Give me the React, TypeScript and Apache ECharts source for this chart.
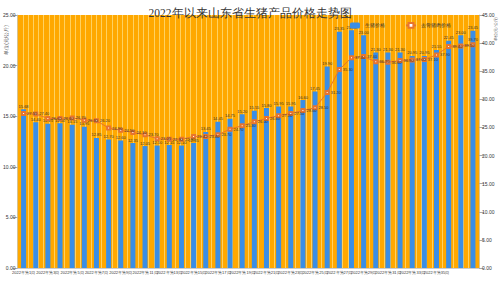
import React, { useEffect, useRef } from "react";
import * as echarts from "echarts";

const titleText = "2022年以来山东省生猪产品价格走势图";
const barName = "生猪价格";
const lineName = "去骨猪肉价格";
const axisNameLeft = "单位(元/公斤)";
const axisNameRight = "单位(元/公斤)";

const weeks: string[] = Array.from({ length: 38 }, (_, i) => `2022年第${i + 1}周`);

const barValues: number[] = [
  15.68, 14.4, 14.25, 14.3, 14.15, 13.95, 12.85, 12.7, 12.6, 12.35,
  12.05, 12.1, 12.15, 12.1, 12.35, 13.45, 14.45, 14.75, 15.2, 15.55,
  15.8, 15.95, 15.95, 16.6, 17.45, 19.9, 23.35, 23.5, 23.0, 21.3,
  21.3, 21.3, 20.95, 20.95, 21.55, 22.45, 23.0, 23.45,
];

const lineValues: number[] = [
  27.5, 27.4, 26.6, 26.6, 26.7, 26.3, 26.2, 24.9, 24.5, 24.1,
  23.7, 23.0, 22.9, 22.9, 23.4, 23.4, 23.7, 24.7, 25.3, 26.0,
  26.6, 27.1, 27.5, 28.0, 28.5, 31.2, 35.3, 37.4, 37.6, 36.7,
  36.6, 36.9, 37.0, 37.1, 37.9, 39.4, 39.5, 39.7,
];

export default function App() {
  const ref = useRef<HTMLDivElement>(null);
  useEffect(() => {
    if (!ref.current) return;
    const chart = echarts.init(ref.current, null, { renderer: "svg" });
    const fmt = (v: any) => Number(v).toFixed(2);
    const lineData = lineValues.map((v, i) =>
      i === lineValues.length - 1 ? { value: v, label: { position: "top" } } : v
    );
    chart.setOption({
      animation: false,
      backgroundColor: "#ffffff",
      title: {
        text: titleText,
        left: "center",
        top: 2,
        textStyle: { fontSize: 11.5, fontFamily: "serif", color: "#333", fontWeight: "normal" },
      },
      legend: {
        left: 345,
        top: 17,
        itemWidth: 10,
        itemHeight: 6,
        itemGap: 20,
        textStyle: { fontSize: 5, color: "#333" },
        data: [barName, lineName],
      },
      grid: {
        left: 14,
        right: 21,
        top: 15,
        bottom: 13,
        show: true,
        backgroundColor: "#FFA800",
        borderWidth: 0,
      },
      graphic: [
        {
          type: "text",
          x: 6,
          y: 40,
          rotation: Math.PI / 2,
          style: { text: axisNameLeft, fontSize: 5, fill: "#555", textAlign: "center", textVerticalAlign: "middle" },
        },
        {
          type: "text",
          x: 496,
          y: 29,
          rotation: Math.PI / 2,
          style: { text: axisNameRight, fontSize: 3.8, fill: "#555", textAlign: "center", textVerticalAlign: "middle" },
        },
      ],
      xAxis: [
        {
          type: "category",
          data: weeks,
          axisLabel: { interval: 1, fontSize: 4, color: "#333", margin: 2 },
          axisTick: { show: false },
          axisLine: { lineStyle: { color: "#999", width: 0.5 } },
        },
        {
          type: "value",
          min: 0,
          max: 88,
          interval: 1,
          position: "bottom",
          axisLine: { show: false },
          axisTick: { show: false },
          axisLabel: { show: false },
          splitLine: { show: true, lineStyle: { color: "#FFDC7A", width: 0.8 } },
        },
      ],
      yAxis: [
        {
          type: "value",
          min: 0,
          max: 25,
          interval: 5,
          axisLabel: { formatter: fmt, fontSize: 5, color: "#333", margin: 2 },
          axisLine: { show: true, lineStyle: { color: "#aaa", width: 0.5 } },
          splitLine: { show: false },
        },
        {
          type: "value",
          min: 0,
          max: 45,
          interval: 5,
          position: "right",
          axisLabel: { formatter: fmt, fontSize: 5, color: "#333", margin: 3 },
          axisLine: { show: true, lineStyle: { color: "#aaa", width: 0.5 } },
          splitLine: { show: false },
        },
      ],
      series: [
        {
          name: barName,
          type: "bar",
          xAxisIndex: 0,
          yAxisIndex: 0,
          data: barValues,
          barWidth: 5,
          itemStyle: { color: "#3A8EE6" },
          label: { show: true, position: "top", distance: 1, fontSize: 4, color: "#333", formatter: (p: any) => fmt(p.value) },
        },
        {
          name: lineName,
          type: "line",
          xAxisIndex: 0,
          yAxisIndex: 1,
          data: lineData,
          symbol: "emptyRect",
          symbolSize: 3,
          lineStyle: { color: "#E8742E", width: 1 },
          itemStyle: { color: "#E8742E" },
          label: { show: true, position: "right", distance: 1, fontSize: 4, color: "#333", formatter: (p: any) => fmt(p.value) },
        },
      ],
    });
    return () => chart.dispose();
  }, []);
  return <div ref={ref} style={{ width: 500, height: 281, position: "absolute", left: 0, top: 0 }} />;
}
